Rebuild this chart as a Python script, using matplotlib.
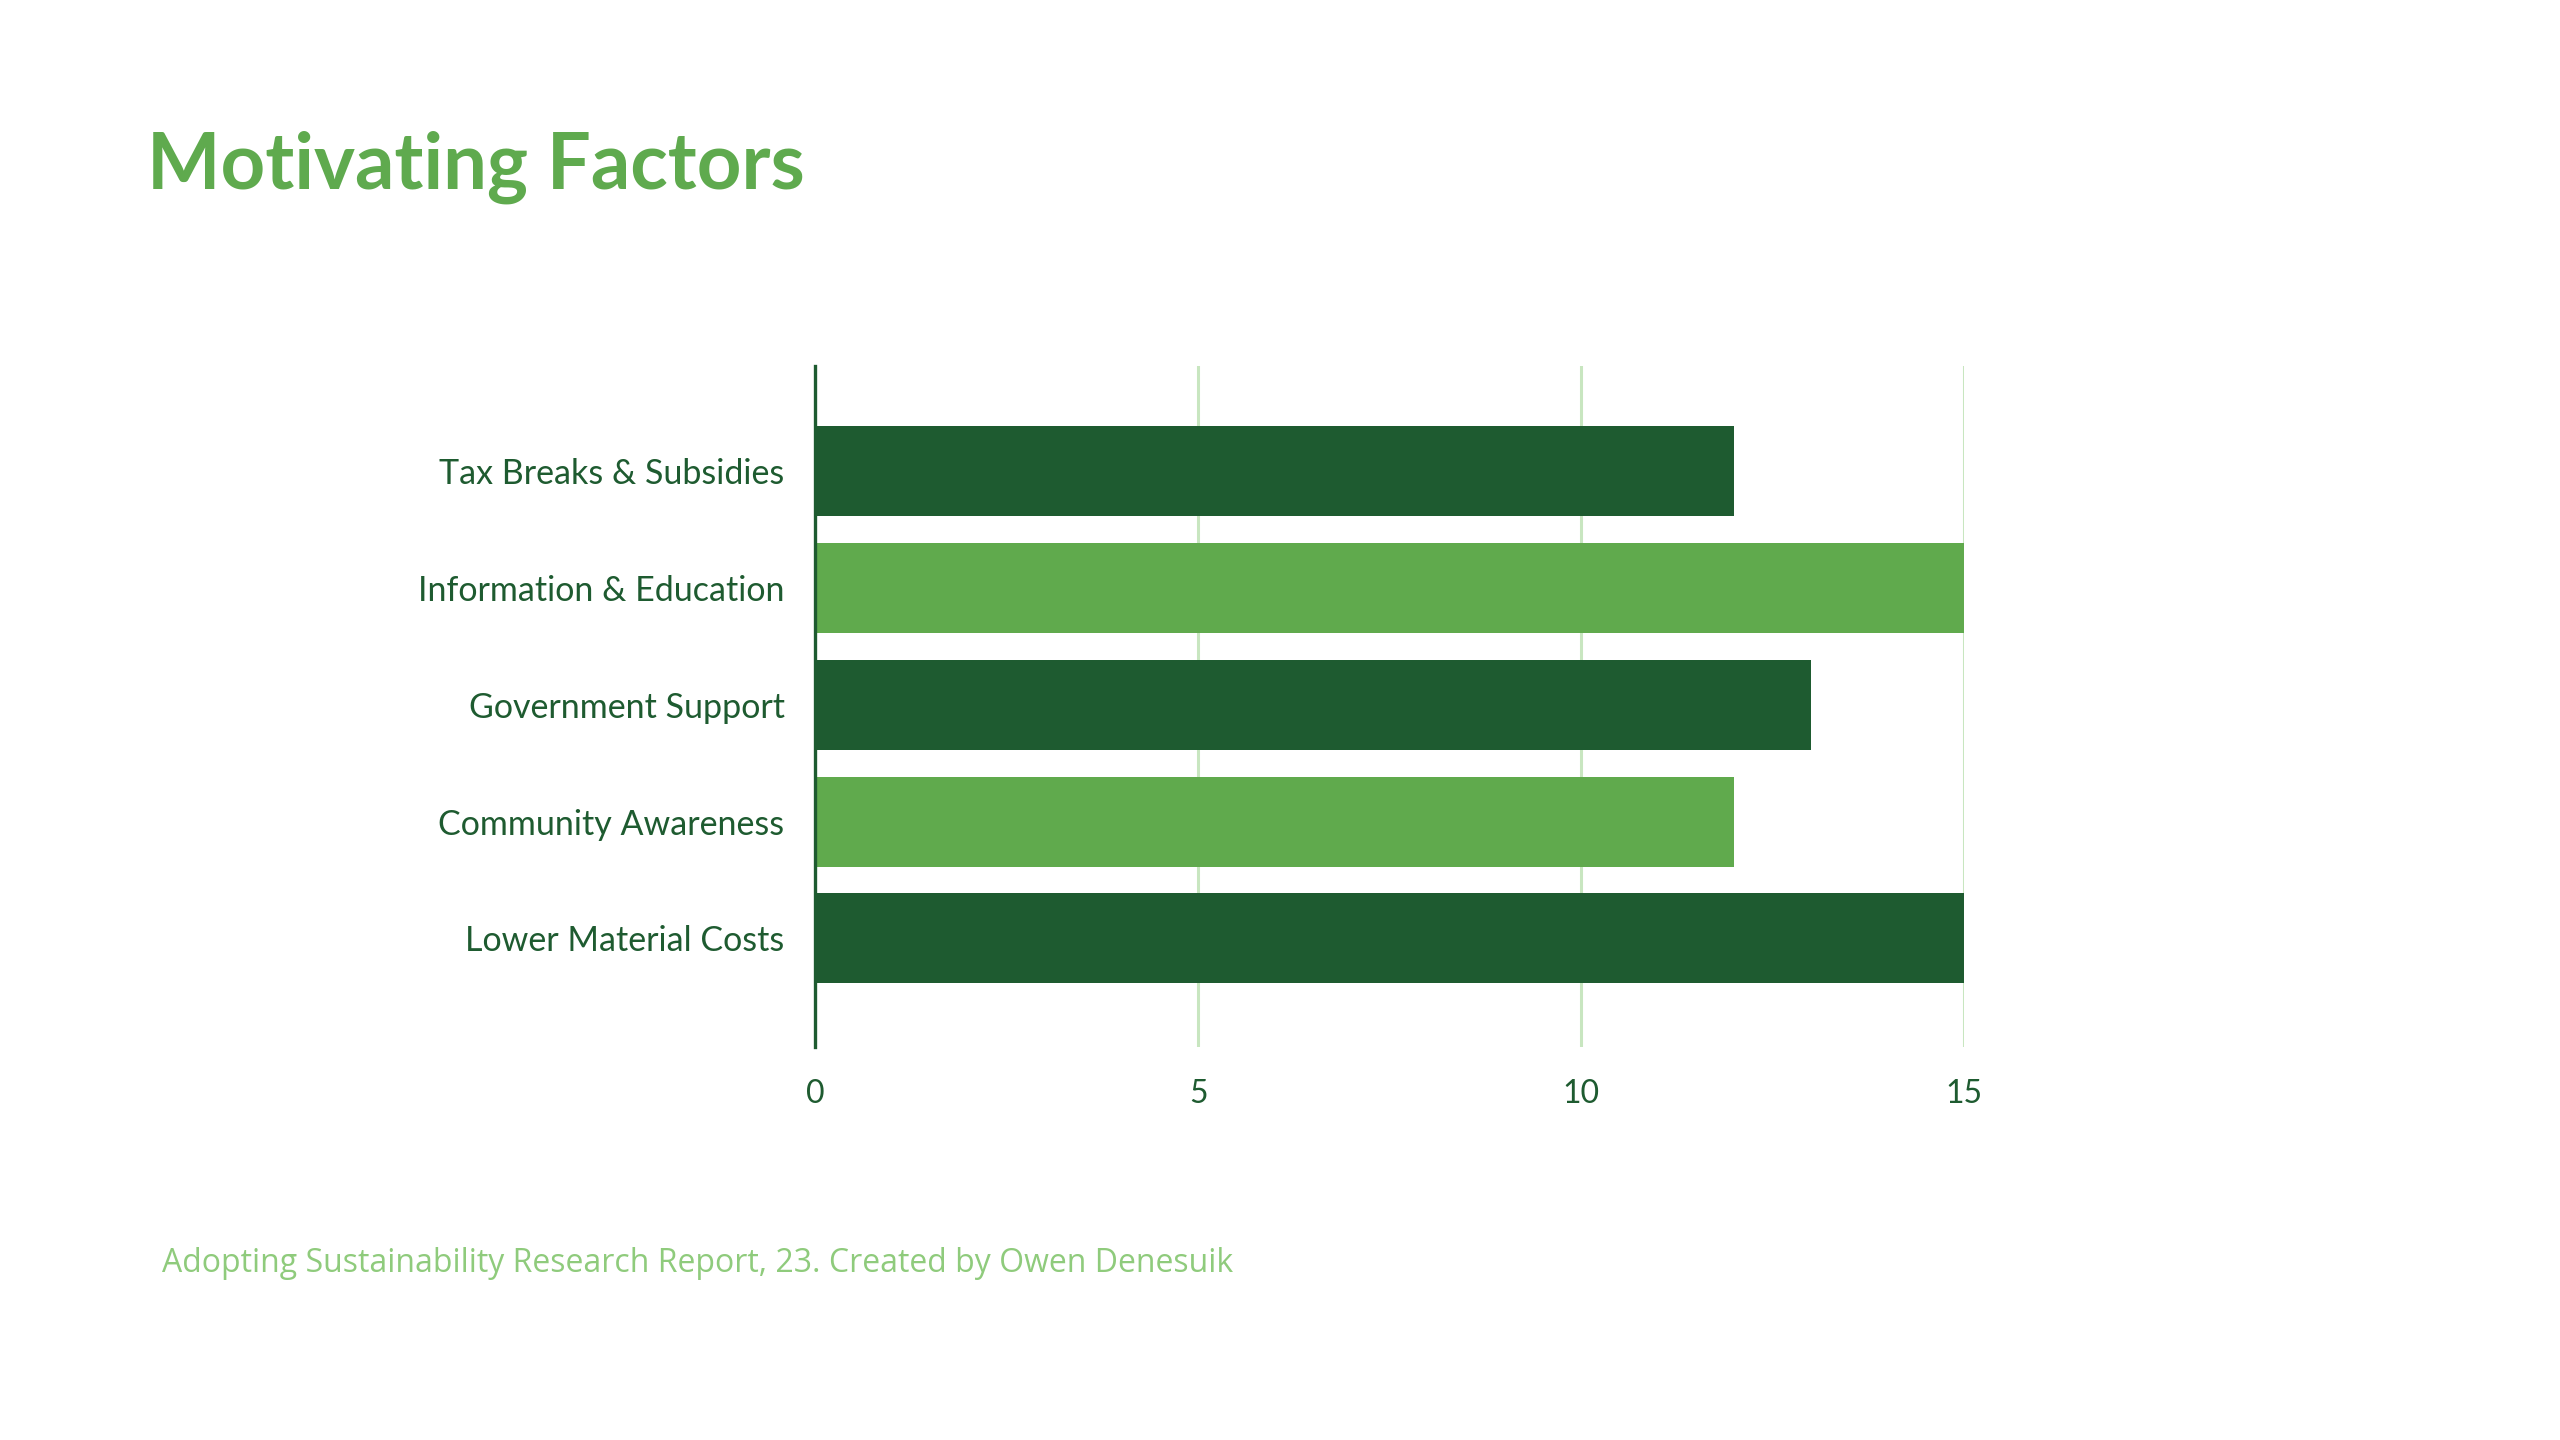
import matplotlib.pyplot as plt

# ---- data ----
factors = ["Tax Breaks & Subsidies", "Information & Education", "Government Support",
           "Community Awareness", "Lower Material Costs"]
values = [12, 15, 13, 12, 15]
xticks = [0, 5, 10, 15]

dark = "#1E5B30"
light = "#60AA4D"
grid_col = "#C8E6C0"
bar_colors = [dark, light, dark, light, dark]

fig = plt.figure(figsize=(25.6, 14.4), dpi=100)
ax = fig.add_axes([0.3184, 0.2729, 0.4488, 0.4729])

pos = list(range(len(factors)))
ax.barh(pos, values, height=0.77, color=bar_colors, zorder=3)

ax.set_xlim(0, 15)
ax.set_ylim(4.93, -0.9)
ax.set_xticks(xticks)
ax.set_yticks(pos)
ax.set_yticklabels(factors)

ax.grid(axis="x", color=grid_col, linewidth=2.2, zorder=0)
ax.grid(axis="y", visible=False)
for s in ["top", "right", "bottom"]:
    ax.spines[s].set_visible(False)
ax.spines["left"].set_color(dark)
ax.spines["left"].set_linewidth(2.4)
ax.spines["left"].set_zorder(4)

ax.tick_params(axis="both", length=0, labelcolor=dark)
ax.tick_params(axis="y", pad=22, labelsize=24.5)
ax.tick_params(axis="x", pad=23, labelsize=23)
for lab in ax.get_yticklabels() + ax.get_xticklabels():
    lab.set_fontfamily("Lato")

fig.text(147 / 2560, 1 - 189 / 1440, "Motivating Factors", fontsize=56,
         fontweight="bold", color="#5FAA4E", family="Lato", va="baseline", ha="left")
fig.text(162 / 2560, 1 - 1264 / 1440,
         "Adopting Sustainability Research Report, 23. Created by Owen Denesuik",
         fontsize=23, color="#8FCB7C", family="Open Sans",
         va="center", ha="left")

fig.savefig("out.png", dpi=100, facecolor="white")
